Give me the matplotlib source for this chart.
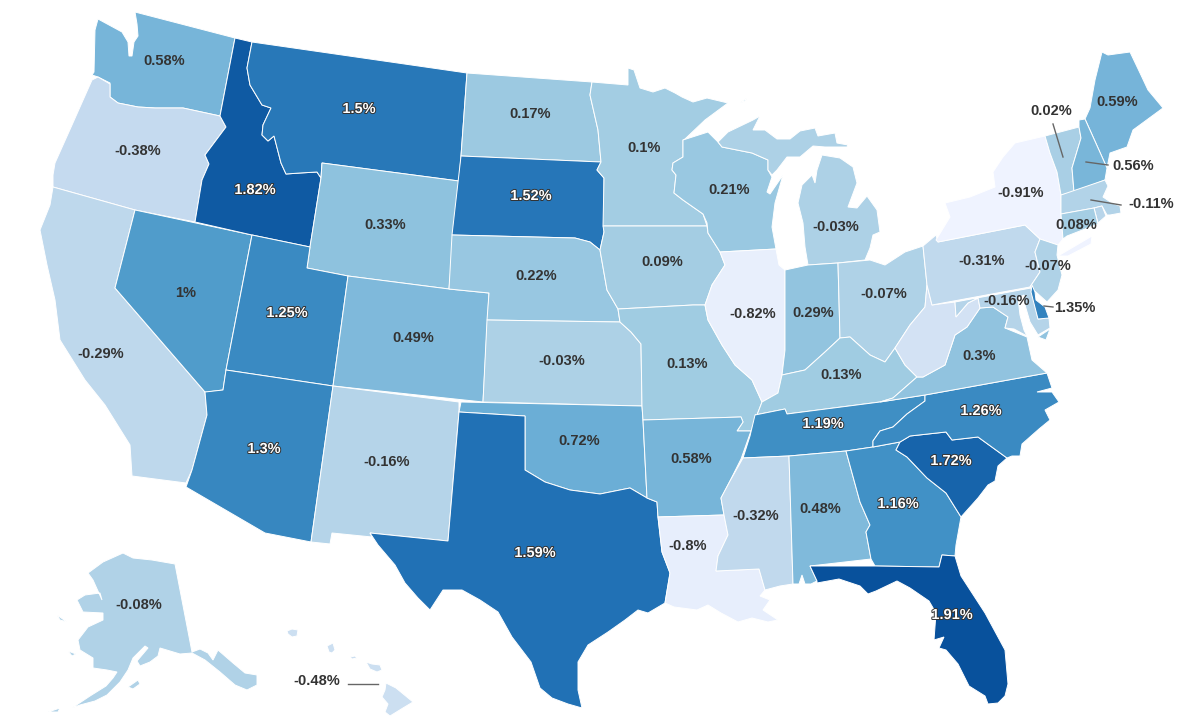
import matplotlib
matplotlib.use('Agg')
from matplotlib import pyplot as plt
from matplotlib.colors import LinearSegmentedColormap, Normalize
import matplotlib.patheffects as pe

plt.rcParams['font.family'] = ['Liberation Sans', 'DejaVu Sans']

# values, WV and RI have no printed label so they are estimates
states = ['WA','OR','CA','NV','ID','MT','WY','UT','AZ','CO','NM','ND','SD','NE','KS','OK','TX',
          'MN','IA','MO','AR','LA','WI','IL','MI','IN','OH','KY','TN','MS','AL','GA','FL','SC',
          'NC','VA','WV','PA','NY','VT','ME','NH','MA','RI','CT','NJ','MD','DE','AK','HI']
values = [0.58,-0.38,-0.29,1,1.82,1.5,0.33,1.25,1.3,0.49,-0.16,0.17,1.52,0.22,-0.03,0.72,1.59,
          0.1,0.09,0.13,0.58,-0.8,0.21,-0.82,-0.03,0.29,-0.07,0.13,1.19,-0.32,0.48,1.16,1.91,1.72,
          1.26,0.3,-0.55,-0.31,-0.91,0.02,0.59,0.56,-0.11,-0.2,0.08,-0.07,-0.16,1.35,-0.08,-0.48]
color_values = [-0.91,-0.4,0.1,0.72,1.15,1.59,1.91]
palette = ['#eff3ff','#c6dbef','#a3cde3','#6baed6','#4292c6','#2171b5','#08519c']

# state outlines, in image pixels
outlines = {
 'WA': [[(135,12),(235,38),(220,116),(183,108),(155,108),(138,107),(118,103),(110,97),(110,83),(98,77),(92,75),(94,72),(95,30),(98,19),(122,32),(128,42),(129,56),(132,56),(134,42),(138,36),(137,24)]],
 'OR': [[(92,80),(98,77),(110,84),(110,97),(118,103),(138,107),(155,108),(183,108),(220,116),(226,127),(205,155),(209,164),(202,180),(195,222),(135,210),(53,187),(53,175),(55,163),(72,125)]],
 'CA': [[(53,187),(135,210),(115,288),(205,392),(207,415),(192,470),(186,483),(132,476),(130,445),(105,405),(85,380),(60,340),(55,300),(47,265),(40,230),(50,205)]],
 'NV': [[(135,210),(252,235),(226,370),(223,390),(207,392),(205,392),(115,288)]],
 'ID': [[(235,38),(252,42),(247,68),(250,85),(262,105),(271,108),(263,125),(262,135),(268,141),(274,136),(281,163),(286,174),(300,173),(317,172),(321,178),(310,247),(252,235),(195,222),(202,180),(209,164),(205,155),(226,127),(220,116)]],
 'MT': [[(252,42),(467,73),(461,156),(459,181),(322,163),(321,178),(317,172),(300,173),(286,174),(281,163),(274,136),(268,141),(262,135),(263,125),(271,108),(262,105),(250,85),(247,68)]],
 'WY': [[(322,163),(459,181),(449,289),(348,276),(307,268),(310,247),(321,178)]],
 'UT': [[(252,235),(310,247),(307,268),(348,276),(333,386),(226,370)]],
 'AZ': [[(226,370),(333,386),(311,542),(265,533),(186,487),(192,470),(207,415),(205,392),(223,390)]],
 'CO': [[(348,276),(449,289),(489,293),(483,402),(333,386)]],
 'NM': [[(333,386),(459,402),(459,412),(448,541),(370,533),(372,537),(332,533),(330,544),(311,542)]],
 'ND': [[(467,73),(592,82),(590,95),(598,130),(601,162),(461,156)]],
 'SD': [[(461,156),(601,162),(597,170),(604,178),(604,232),(600,250),(590,242),(575,238),(452,235)]],
 'NE': [[(452,235),(575,238),(590,242),(600,250),(607,290),(618,309),(620,322),(487,320),(489,293),(449,289)]],
 'KS': [[(487,320),(620,322),(631,332),(641,344),(642,406),(483,402)]],
 'OK': [[(461,402),(642,406),(643,420),(647,498),(630,488),(600,494),(570,490),(545,482),(525,470),(525,416),(459,412)]],
 'TX': [[(459,412),(525,416),(525,470),(545,482),(570,490),(600,494),(630,488),(647,498),(657,502),(658,517),(662,552),(670,573),(665,603),(648,613),(638,610),(625,620),(608,632),(588,645),(578,662),(578,690),(582,708),(568,704),(552,698),(540,688),(531,662),(512,637),(498,612),(480,600),(462,590),(443,590),(430,610),(418,598),(405,583),(395,565),(378,545),(370,533),(448,541)]],
 'MN': [[(592,82),(628,85),(628,68),(634,70),(640,88),(653,92),(665,88),(675,93),(682,97),(693,102),(707,98),(728,103),(705,120),(685,139),(683,140),(683,157),(673,163),(672,170),(676,175),(674,193),(683,200),(703,214),(707,226),(603,226),(604,178),(597,170),(601,162),(598,130),(590,95)]],
 'IA': [[(603,226),(707,226),(708,233),(720,252),(725,265),(712,285),(705,305),(693,305),(618,309),(607,290),(600,250),(604,232)]],
 'MO': [[(618,309),(693,305),(705,305),(708,320),(722,345),(735,365),(752,380),(762,402),(757,415),(751,431),(737,431),(743,422),(741,417),(643,420),(642,406),(641,344),(631,332),(620,322)]],
 'AR': [[(643,420),(741,417),(743,422),(737,431),(751,431),(741,459),(730,481),(721,498),(724,515),(658,517),(657,502),(647,498)]],
 'LA': [[(658,517),(724,515),(728,535),(718,556),(716,571),(759,569),(765,590),(760,596),(770,600),(763,610),(778,620),(768,622),(752,618),(738,622),(721,613),(708,605),(697,610),(674,607),(665,603),(670,573),(662,552)]],
 'WI': [[(683,140),(708,132),(718,142),(722,147),(752,153),(768,160),(768,170),(772,177),(767,192),(770,194),(783,175),(775,203),(772,227),(776,249),(720,252),(708,233),(707,223),(703,214),(683,200),(674,193),(676,175),(672,170),(673,163),(683,157)]],
 'IL': [[(720,252),(776,249),(779,265),(785,270),(785,350),(782,375),(778,393),(762,402),(752,380),(735,365),(722,345),(708,320),(705,305),(712,285),(725,265)]],
 'MI': [[(822,155),(840,158),(853,167),(857,183),(848,207),(857,208),(867,196),(877,210),(880,232),(873,235),(870,248),(865,260),(838,263),(808,265),(805,247),(803,223),(798,203),(802,185),(812,175),(815,183),(817,170)],
        [(718,142),(728,132),(753,120),(760,116),(753,130),(765,130),(777,139),(790,139),(800,131),(815,128),(818,136),(835,133),(837,143),(848,145),(847,147),(825,147),(813,146),(800,157),(787,157),(777,170),(772,175),(768,170),(768,160),(752,153),(722,147)],
        [(740,103),(747,98),(745,101)]],
 'IN': [[(785,270),(808,265),(838,263),(840,338),(825,352),(805,370),(782,375),(785,350)]],
 'OH': [[(838,263),(870,260),(885,265),(905,252),(923,246),(927,285),(925,307),(910,325),(895,348),(885,362),(870,355),(850,337),(840,338)]],
 'KY': [[(782,375),(805,370),(825,352),(840,338),(850,337),(870,355),(885,362),(895,348),(905,365),(917,377),(893,398),(880,402),(787,414),(785,409),(755,415),(757,415),(762,402),(778,393)]],
 'TN': [[(755,415),(785,409),(787,414),(880,402),(925,395),(925,401),(907,414),(893,427),(880,431),(873,441),(873,447),(846,451),(789,456),(743,458),(750,436)]],
 'MS': [[(743,458),(789,456),(793,584),(780,586),(765,590),(759,569),(716,571),(718,556),(728,535),(724,515),(721,498),(730,481)]],
 'AL': [[(789,456),(846,451),(860,502),(870,525),(866,532),(871,559),(810,566),(817,581),(811,584),(805,584),(802,575),(799,584),(793,584)]],
 'GA': [[(846,451),(873,447),(900,442),(896,450),(907,457),(927,478),(946,493),(961,517),(956,545),(955,556),(942,555),(939,567),(875,566),(871,559),(866,532),(870,525),(860,502)]],
 'FL': [[(810,566),(875,566),(939,567),(942,555),(955,556),(961,576),(985,613),(1005,650),(1008,684),(1005,696),(998,703),(988,704),(985,696),(969,686),(958,664),(946,650),(939,648),(944,637),(934,640),(936,613),(929,601),(910,588),(897,581),(876,591),(868,594),(860,586),(839,579),(817,583),(817,581)]],
 'SC': [[(900,442),(910,436),(946,432),(952,440),(978,437),(1007,458),(998,466),(995,481),(988,485),(978,498),(961,517),(946,493),(927,478),(907,457),(896,450)]],
 'NC': [[(925,395),(1047,373),(1052,388),(1037,392),(1052,392),(1059,402),(1045,410),(1050,420),(1039,429),(1022,444),(1020,456),(1012,456),(1007,458),(978,437),(952,440),(946,432),(910,436),(900,442),(873,447),(873,441),(880,431),(893,427),(907,414),(925,401)]],
 'VA': [[(893,398),(917,377),(923,377),(945,365),(955,335),(967,327),(980,308),(993,307),(1008,317),(1005,328),(1027,337),(1032,360),(1047,373),(925,395),(880,402)],
        [(1038,337),(1050,329),(1046,340)]],
 'WV': [[(927,285),(932,305),(955,302),(956,317),(968,303),(978,298),(980,308),(967,327),(955,335),(945,365),(923,377),(917,377),(905,365),(895,348),(910,325),(925,307)]],
 'PA': [[(923,246),(936,235),(938,242),(1025,225),(1040,239),(1035,252),(1040,272),(1030,287),(932,305),(927,285)]],
 'NY': [[(936,240),(950,217),(945,203),(970,197),(995,187),(993,172),(1003,157),(1015,143),(1045,136),(1050,153),(1057,172),(1061,195),(1061,214),(1063,239),(1058,245),(1040,239),(1025,225),(938,242)],
        [(1058,256),(1092,236),(1091,244),(1068,256)]],
 'VT': [[(1045,136),(1079,127),(1081,138),(1072,168),(1074,192),(1061,195),(1057,172),(1050,153)]],
 'NH': [[(1079,120),(1085,119),(1107,168),(1105,180),(1074,192),(1072,168),(1081,138),(1079,127)]],
 'ME': [[(1085,119),(1090,108),(1095,80),(1102,52),(1108,55),(1130,52),(1140,73),(1148,90),(1158,102),(1163,108),(1133,130),(1127,147),(1110,153),(1107,168)]],
 'MA': [[(1061,195),(1105,180),(1108,186),(1103,197),(1112,203),(1120,206),(1121,213),(1110,215),(1107,215),(1102,206),(1094,208),(1061,214)]],
 'RI': [[(1094,208),(1102,206),(1106,216),(1098,223)]],
 'CT': [[(1061,214),(1094,208),(1098,224),(1067,236),(1063,239)]],
 'NJ': [[(1040,239),(1058,245),(1057,255),(1062,275),(1058,290),(1047,302),(1037,293),(1030,287),(1040,272),(1035,252)]],
 'MD': [[(955,302),(1031,288),(1038,319),(1049,318),(1050,328),(1038,335),(1030,322),(1025,305),(1024,295),(1018,298),(1020,315),(1024,330),(1027,336),(1014,329),(1005,328),(1008,317),(993,307),(980,308),(978,298),(968,303),(956,317)]],
 'DE': [[(1032,285),(1035,292),(1036,300),(1045,307),(1049,318),(1038,319),(1031,292)]],
 'AK': [[(123,553),(133,558),(152,560),(175,564),(192,652),(200,649),(208,653),(213,660),(218,650),(233,663),(245,673),(257,675),(257,685),(247,690),(235,685),(220,672),(205,660),(192,653),(180,654),(160,648),(158,656),(150,662),(140,666),(137,661),(148,648),(145,646),(133,658),(128,670),(120,682),(107,695),(95,701),(80,705),(72,708),(90,696),(106,686),(113,678),(117,672),(107,670),(93,668),(93,658),(80,650),(78,640),(88,627),(103,620),(103,613),(83,612),(77,600),(85,595),(100,593),(102,600),(93,580),(88,573),(103,562)],
        [(128,687),(138,680),(140,684),(133,689)],[(68,651),(76,654),(72,656)],[(57,615),(67,622),(60,620)],[(48,712),(60,708),(58,712)]],
 'HI': [[(386,683),(396,688),(413,702),(403,708),(390,716),(385,712),(388,704),(382,697),(385,690)],
        [(366,662),(372,664),(380,665),(382,670),(377,672),(370,669)],
        [(327,646),(333,643),(335,650),(332,653),(329,652)],
        [(287,631),(292,629),(298,630),(297,636),(292,637),(288,634)],
        [(350,657),(355,656),(357,658),(352,659)]],
}

# label anchors in image pixels
label_pos = {
 'WA':(164,61),'OR':(138,151),'CA':(101,354),'NV':(186,293),'ID':(255,190),'MT':(359,109),'WY':(385,225),
 'UT':(287,313),'AZ':(264,449),'CO':(413,338),'NM':(387,462),'ND':(530,114),'SD':(531,196),'NE':(536,276),
 'KS':(562,361),'OK':(579,441),'TX':(535,553),'MN':(644,148),'IA':(662,262),'MO':(687,364),'AR':(691,459),
 'LA':(688,546),'WI':(729,190),'IL':(753,314),'MI':(836,227),'IN':(813,313),'OH':(884,294),'KY':(841,375),
 'TN':(823,424),'MS':(756,516),'AL':(820,509),'GA':(898,504),'FL':(952,615),'SC':(951,461),'NC':(981,411),
 'VA':(979,356),'PA':(982,261),'NY':(1021,193),'VT':(1051,111),'ME':(1117,102),'NH':(1133,166),'MA':(1151,204),
 'CT':(1076,225),'NJ':(1048,266),'MD':(1007,301),'DE':(1075,308),'AK':(139,605),'HI':(317,681),
}
leaders = {'VT':[(1053,124),(1063,157)],'NH':[(1086,162),(1108,165)],'MA':[(1091,200),(1121,205)],
           'DE':[(1044,306),(1053,307)],'HI':[(348,684),(378,684)]}

norm = Normalize(min(values), max(values))
cmap = LinearSegmentedColormap.from_list('blues7', list(zip([norm(v) for v in color_values], palette)))

fig = plt.figure(figsize=(12, 7.2), dpi=100)
ax = fig.add_axes([0, 0, 1, 1])
ax.set_xlim(0, 1200)
ax.set_ylim(720, 0)
ax.axis('off')

for st, val in zip(states, values):
    for part in outlines[st]:
        ax.fill(*zip(*part), facecolor=cmap(norm(val)), edgecolor='white', linewidth=0.7, zorder=2)

for st, pts in leaders.items():
    ax.plot(*zip(*pts), color='#666666', linewidth=1, zorder=3)

for st, val in zip(states, values):
    if st not in label_pos:
        continue
    x, y = label_pos[st]
    # Delaware's label sits outside the state on the white background
    light = val > 1.1 and st != 'DE'
    txt = ax.text(x, y, f'{val:g}%', ha='center', va='center', fontsize=10.5, fontweight='bold',
                  color='white' if light else '#333333', zorder=4)
    if light:
        txt.set_path_effects([pe.withStroke(linewidth=1.4, foreground='#333333')])

fig.savefig('out.png', dpi=100)
